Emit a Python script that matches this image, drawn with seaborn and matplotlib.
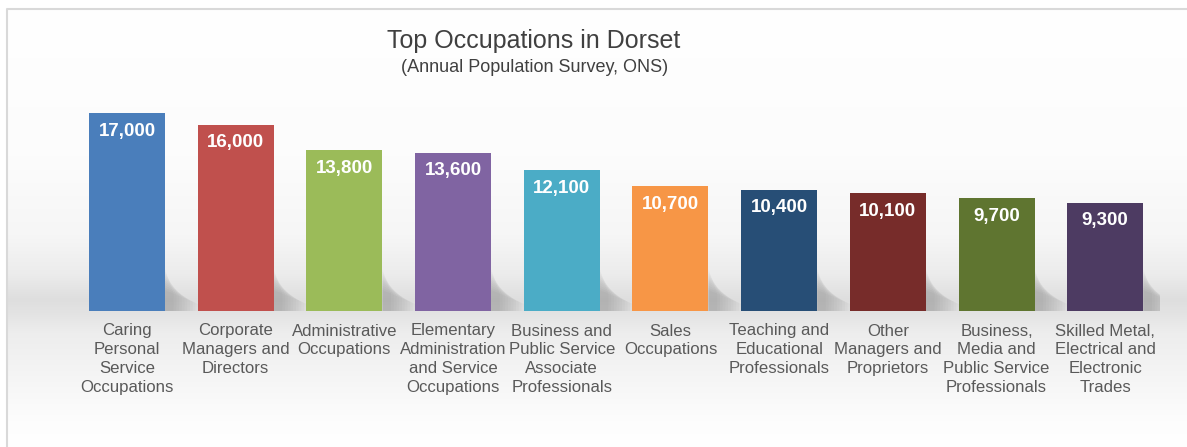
import numpy as np
import pandas as pd
import matplotlib
matplotlib.use("Agg")
import matplotlib.pyplot as plt
import seaborn as sns

# ---- data ----
categories = [
    "Caring\nPersonal\nService\nOccupations",
    "Corporate\nManagers and\nDirectors",
    "Administrative\nOccupations",
    "Elementary\nAdministration\nand Service\nOccupations",
    "Business and\nPublic Service\nAssociate\nProfessionals",
    "Sales\nOccupations",
    "Teaching and\nEducational\nProfessionals",
    "Other\nManagers and\nProprietors",
    "Business,\nMedia and\nPublic Service\nProfessionals",
    "Skilled Metal,\nElectrical and\nElectronic\nTrades",
]
values = [17000, 16000, 13800, 13600, 12100, 10700, 10400, 10100, 9700, 9300]
value_labels = ["17,000", "16,000", "13,800", "13,600", "12,100",
                "10,700", "10,400", "10,100", "9,700", "9,300"]
bar_colors = ["#4a7ebb", "#c0504d", "#9bbb59", "#8064a2", "#4bacc6",
              "#f79646", "#274e76", "#772c2a", "#5f7530", "#4d3b62"]
title = "Top Occupations in Dorset"
subtitle = "(Annual Population Survey, ONS)"

sns.set_theme(style="white")
plt.rcParams["font.family"] = ["Liberation Sans", "DejaVu Sans"]

W, H = 1187, 447
fig = plt.figure(figsize=(W / 100, H / 100), dpi=100)
fig.patch.set_facecolor("white")

# ---- background gradient panel ----
bg = fig.add_axes([0, 0, 1, 1], zorder=0)
bg.set_xlim(0, W)
bg.set_ylim(H, 0)
bg.axis("off")
ys = np.arange(H)
prof = np.interp(ys, [0, 150, 230, 270, 296, 312, 330, 380, 420, 447],
                 [255, 252, 246, 236, 222, 228, 237, 246, 253, 255]) / 255.0
img = np.repeat(prof[:, None], 2, axis=1)
bg.imshow(np.dstack([img, img, img]), extent=[7, W, H, 9], aspect="auto",
          interpolation="bilinear")
bg.plot([7, 7, W], [H, 9, 9], color="#d9d9d9", lw=1.5)

# ---- chart axes ----
left_px, right_px = 72.6, 1159.6
bottom_px = 311
top_px = 311 - 20000 * (198 / 17000)
ax = fig.add_axes([left_px / W, (H - bottom_px) / H,
                   (right_px - left_px) / W, (bottom_px - top_px) / H], zorder=2)
ax.patch.set_alpha(0)

df = pd.DataFrame({"cat": categories, "val": values})
sns.barplot(data=df, x="cat", y="val", hue="cat", palette=bar_colors,
            legend=False, width=0.7, saturation=1, ax=ax, edgecolor="none")

# soft shadows behind the bars
for i, v in enumerate(values):
    for k in range(10):
        w = 0.08 + k * 0.025
        ax.fill([i + 0.35, i + 0.35 + w, i + 0.35 + w, i + 0.35],
                [0, 0, 1500 - k * 100, 3600 - k * 200],
                color="black", alpha=0.018, lw=0, zorder=0.5)

for i, (v, lab) in enumerate(zip(values, value_labels)):
    ax.annotate(lab, xy=(i, v), xytext=(0, -13), textcoords="offset points",
                ha="center", va="center", color="white", fontsize=13.5,
                fontweight="bold")

ax.set_xlim(-0.5, 9.5)
ax.set_ylim(0, 20000)
ax.set_xlabel("")
ax.set_ylabel("")
ax.set_yticks([])
ax.tick_params(axis="x", length=0, pad=9, labelsize=12.1, colors="#595959")
for t in ax.get_xticklabels():
    t.set_linespacing(1.32)
for s in ax.spines.values():
    s.set_visible(False)

fig.text(534 / W, 1 - 41 / H, title, ha="center", va="center",
         fontsize=18, color="#404040", zorder=3)
fig.text(535 / W, 1 - 67 / H, subtitle, ha="center", va="center",
         fontsize=13, color="#404040", zorder=3)

fig.savefig("out.png", dpi=100)
